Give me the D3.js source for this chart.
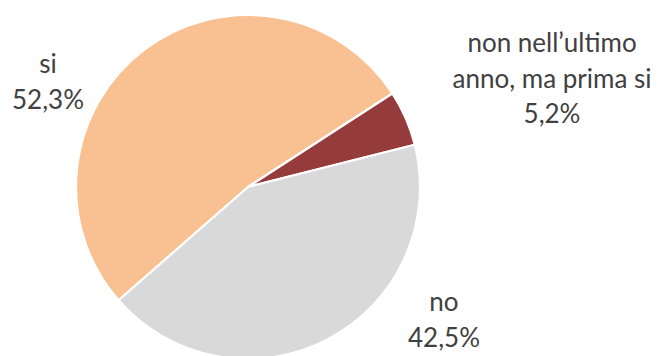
<!DOCTYPE html>
<html>
<head>
<meta charset="utf-8">
<script src="https://cdn.jsdelivr.net/npm/d3@7"></script>
<style>
  html, body { margin: 0; padding: 0; background: #fff; }
  svg { display: block; }
</style>
</head>
<body>
<svg id="chart" width="657" height="356"></svg>
<script>
// Survey answers, share of respondents (%)
const categories = ["si", "non nell’ultimo anno, ma prima si", "no"];
const values = [52.3, 5.2, 42.5];
const valueLabels = ["52,3%", "5,2%", "42,5%"];
// Label text split into lines as displayed
const nameLines = [["si"], ["non nell’ultimo", "anno, ma prima si"], ["no"]];

const colors = ["#F9C191", "#953B3B", "#D9D9D9"];

// Layout
const width = 657, height = 356;
const cx = 248, cy = 187, radius = 172;
const startDeg = 228.8;
const labelAnchors = [
  { x: 48, y: 73 },
  { x: 552, y: 52 },
  { x: 444, y: 311 }
];
const lineGap = 35.5;

const svg = d3.select("#chart");

const pie = d3.pie()
  .sort(null)
  .value(d => d)
  .startAngle(startDeg * Math.PI / 180)
  .endAngle(startDeg * Math.PI / 180 + 2 * Math.PI);

const arc = d3.arc().innerRadius(0).outerRadius(radius);

const g = svg.append("g").attr("transform", `translate(${cx},${cy})`);

g.selectAll("path")
  .data(pie(values))
  .join("path")
  .attr("d", arc)
  .attr("fill", (d, i) => colors[i])
  .attr("stroke", "#fff")
  .attr("stroke-width", 2.2)
  .attr("stroke-linejoin", "round");

// Data labels: category name lines followed by the percentage
const labels = svg.selectAll("text.lbl")
  .data(categories)
  .join("text")
  .attr("class", "lbl")
  .attr("text-anchor", "middle")
  .attr("font-family", "Lato, 'Open Sans', sans-serif")
  .attr("font-size", 26)
  .attr("fill", "#404040");

labels.each(function (c, i) {
  const t = d3.select(this);
  const lines = nameLines[i].concat([valueLabels[i]]);
  lines.forEach((s, k) => {
    t.append("tspan")
      .attr("x", labelAnchors[i].x)
      .attr("y", labelAnchors[i].y + k * lineGap)
      .text(s);
  });
});
</script>
</body>
</html>
